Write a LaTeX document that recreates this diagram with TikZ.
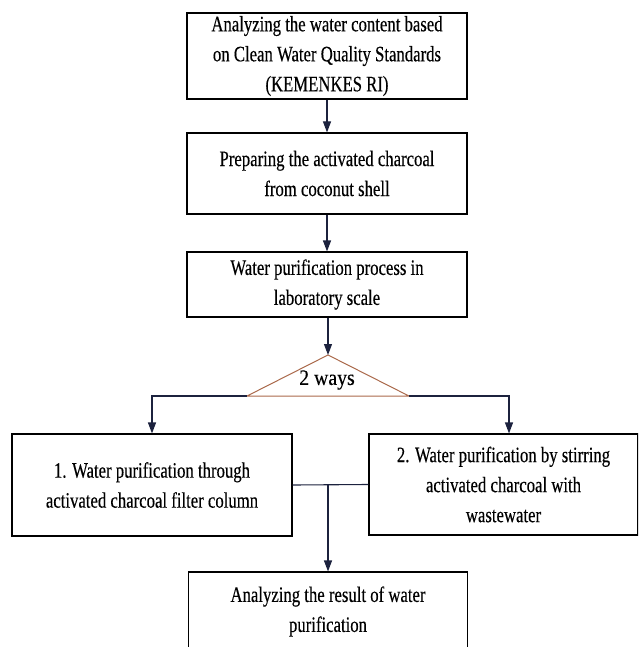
\documentclass[tikz,border=0pt]{standalone}
\usepackage{fontspec}
\setmainfont{Liberation Serif}[FakeStretch=0.76,FakeBold=0.3]
\newfontfamily\waysfont{Liberation Serif}[FakeStretch=0.9,FakeBold=0.3]
\usetikzlibrary{arrows.meta}

\definecolor{linkblue}{RGB}{28,34,62}
\definecolor{waybrown}{RGB}{170,105,75}

\tikzset{
    stepbox/.style={draw=black, line width=1.1pt, align=center, inner sep=0pt,
        font=\fontsize{22}{30}\selectfont},
    link/.style={draw=linkblue, line width=1.1pt},
    tip/.style={-{Triangle[length=11pt,width=8pt]}}
}

\begin{document}
\begin{tikzpicture}[x=1pt,y=-1pt]
        \useasboundingbox (0,0) rectangle (638,647);
        \clip (0,0) rectangle (638,647);

        \node[stepbox, minimum width=280, minimum height=86] (kemenkes) at (327,56)
            {Analyzing the water content based\\on Clean Water Quality Standards\\(KEMENKES RI)};
        \node[stepbox, minimum width=280, minimum height=81] (charcoal) at (327,173.5)
            {Preparing the activated charcoal\\from coconut shell};
        \node[stepbox, minimum width=280, minimum height=65] (labscale) at (327,284.5)
            {Water purification process in\\laboratory scale};

        \coordinate (apex) at (328,355);
        \coordinate (baseleft) at (247,396);
        \coordinate (baseright) at (409,396);
        \draw[draw=waybrown, line width=1pt] (baseleft) -- (apex) -- (baseright) -- cycle;
        \node[font=\waysfont\fontsize{22}{30}\selectfont] (ways) at (327,380) {2 ways};

        \node[stepbox, minimum width=280, minimum height=102] (column) at (152,485)
            {1. Water purification through\\activated charcoal filter column};
        \node[stepbox, minimum width=269, minimum height=101] (stirring) at (503.5,484.5)
            {2. Water purification by stirring\\activated charcoal with\\wastewater};
        \node[stepbox, minimum width=279, minimum height=79] (result) at (328,611.5)
            {Analyzing the result of water\\purification};

        \draw[link, tip] (kemenkes) -- (charcoal);
        \draw[link, tip] (charcoal) -- (labscale);
        \draw[link, tip] (labscale.south -| apex) -- (apex);
        \draw[link, tip] (baseleft) -| (column.north);
        \draw[link, tip] (baseright) -| ([xshift=5.5]stirring.north);

        \draw[link] (column.east) -- (stirring.west);
        \coordinate (join) at (column.east -| result.north);
        \draw[link, tip] (join) -- (result.north);

\end{tikzpicture}
\end{document}
